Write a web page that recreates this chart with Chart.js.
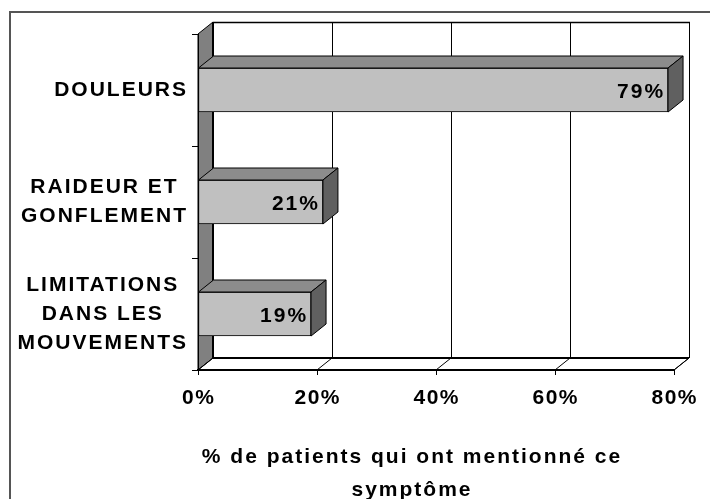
<!DOCTYPE html>
<html>
<head>
<meta charset="utf-8">
<script src="https://cdn.jsdelivr.net/npm/chart.js@4.4.0/dist/chart.umd.min.js"></script>
<style>
  html, body { margin: 0; padding: 0; background: #fff; }
</style>
</head>
<body>
<canvas id="symptomChart" width="710" height="499"></canvas>
<script>
// data
const categories = [['DOULEURS'], ['RAIDEUR ET', 'GONFLEMENT'], ['LIMITATIONS', 'DANS LES', 'MOUVEMENTS']];
const percentValues = [79, 21, 19];
const xTickValues = [0, 20, 40, 60, 80];
const axisTitle = ['% de patients qui ont mentionné ce', 'symptôme'];

const FONT = '"Liberation Sans", Arial, sans-serif';
const DX = 15, DY = -12;   // depth of the fake 3D box

function poly(ctx, pts, fill) {
    ctx.beginPath();
    ctx.moveTo(pts[0][0], pts[0][1]);
    for (let i = 1; i < pts.length; i++) ctx.lineTo(pts[i][0], pts[i][1]);
    ctx.closePath();
    if (fill) { ctx.fillStyle = fill; ctx.fill(); }
    ctx.stroke();
}

function line(ctx, x1, y1, x2, y2) {
    ctx.beginPath();
    ctx.moveTo(x1, y1);
    ctx.lineTo(x2, y2);
    ctx.stroke();
}

function spacedText(ctx, text, x, y, align, spacing) {
    ctx.letterSpacing = spacing + 'px';
    ctx.textAlign = align;
    // trailing spacing is counted in the width, shift to compensate
    let dx = 0;
    if (align === 'center') dx = spacing / 2;
    if (align === 'right') dx = spacing;
    ctx.fillText(text, x + dx, y);
}

const box3d = {
    id: 'box3d',
    beforeDraw(chart) {
        const { ctx, chartArea: a, scales: { x } } = chart;
        ctx.save();
        ctx.fillStyle = '#fff';
        ctx.fillRect(0, 0, chart.width, chart.height);

        // outer frame, only top and left edges are inside the picture
        ctx.strokeStyle = '#555';
        ctx.lineWidth = 2;
        ctx.strokeRect(10, 12, chart.width + 20, chart.height + 20);

        const bx0 = a.left + DX, bx1 = a.right + DX;
        const by0 = a.top + DY, by1 = a.bottom + DY;
        ctx.strokeStyle = '#000';
        ctx.lineWidth = 1;

        // back wall with gridlines
        ctx.fillStyle = '#fff';
        ctx.fillRect(bx0, by0, bx1 - bx0, by1 - by0);
        xTickValues.forEach(v => {
            const px = Math.round(x.getPixelForValue(v)) + DX + 0.5;
            line(ctx, px, by0, px, by1);
        });
        ctx.lineWidth = 1.5;
        line(ctx, bx0, by0 + 0.5, bx1 + 1, by0 + 0.5);

        // left wall
        ctx.lineWidth = 1;
        poly(ctx, [[a.left, a.top], [bx0, by0], [bx0, by1], [a.left, a.bottom]], '#808080');
        ctx.lineWidth = 2;
        line(ctx, bx0, by0, bx0, by1);

        // floor
        ctx.lineWidth = 1;
        poly(ctx, [[a.left, a.bottom], [bx0, by1], [bx1, by1], [a.right, a.bottom]], '#fff');
        ctx.lineWidth = 2;
        line(ctx, bx0, by1, bx1, by1);
        ctx.lineWidth = 1;
        xTickValues.forEach(v => {
            const px = x.getPixelForValue(v);
            line(ctx, px, a.bottom, px + DX, by1);
        });
        ctx.restore();
    },
    afterDatasetsDraw(chart) {
        const { ctx } = chart;
        const meta = chart.getDatasetMeta(0);
        ctx.save();
        ctx.strokeStyle = '#000';
        ctx.lineWidth = 1;
        meta.data.forEach((bar, i) => {
            const p = bar.getProps(['x', 'y', 'base', 'height'], true);
            const top = p.y - p.height / 2, bottom = p.y + p.height / 2;
            poly(ctx, [[p.base, top], [p.base + DX, top + DY], [p.x + DX, top + DY], [p.x, top]], '#8c8c8c');
            poly(ctx, [[p.x, top], [p.x + DX, top + DY], [p.x + DX, bottom + DY], [p.x, bottom]], '#606060');

            ctx.fillStyle = '#000';
            ctx.font = 'bold 21px ' + FONT;
            ctx.textBaseline = 'alphabetic';
            spacedText(ctx, percentValues[i] + '%', p.x - 5, p.y + 7.5, 'right', 2);
        });
        ctx.restore();
    },
    afterDraw(chart) {
        const { ctx, scales: { x, y } } = chart;
        ctx.save();
        ctx.fillStyle = '#000';
        ctx.font = 'bold 21px ' + FONT;
        ctx.textBaseline = 'alphabetic';

        // category labels, each block centred on itself and right-aligned to the axis
        const lh = 29;
        categories.forEach((lines, i) => {
            const yc = y.getPixelForValue(i) - 2;
            ctx.letterSpacing = '2px';
            const maxW = Math.max(...lines.map(t => ctx.measureText(t).width - 2));
            const cx = 186 - maxW / 2;
            lines.forEach((t, j) => {
                const by = yc - (lines.length - 1) * lh / 2 + j * lh + 7.5;
                spacedText(ctx, t, cx, by, 'center', 2);
            });
        });

        // x tick labels
        xTickValues.forEach(v => {
            spacedText(ctx, v + '%', x.getPixelForValue(v), 404, 'center', 1.5);
        });

        // axis title
        axisTitle.forEach((t, j) => {
            spacedText(ctx, t, 411, 463 + j * 33, 'center', 2);
        });
        ctx.restore();
    }
};

const ctx = document.getElementById('symptomChart').getContext('2d');
const chart = new Chart(ctx, {
    type: 'bar',
    data: {
        labels: categories,
        datasets: [{
            data: percentValues,
            backgroundColor: '#c0c0c0',
            borderColor: '#000',
            borderWidth: 1,
            borderSkipped: false,
            barThickness: 44
        }]
    },
    options: {
        indexAxis: 'y',
        responsive: false,
        animation: false,
        events: [],
        layout: {
            padding: { left: 0, top: 34, right: 36, bottom: 0 }
        },
        plugins: {
            legend: { display: false },
            tooltip: { enabled: false }
        },
        scales: {
            x: {
                min: 0,
                max: 80,
                afterBuildTicks: s => { s.ticks = xTickValues.map(v => ({ value: v })); },
                afterFit: s => { s.height = 129; },
                ticks: { display: false },
                grid: {
                    drawOnChartArea: false,
                    drawTicks: true,
                    tickLength: 5,
                    color: '#000'
                },
                border: { display: true, color: '#000', width: 2 }
            },
            y: {
                afterFit: s => { s.width = 198; },
                ticks: { display: false },
                grid: {
                    drawOnChartArea: false,
                    drawTicks: true,
                    tickLength: 6,
                    color: '#000'
                },
                border: { display: true, color: '#000', width: 1 }
            }
        }
    },
    plugins: [box3d]
});
</script>
</body>
</html>
